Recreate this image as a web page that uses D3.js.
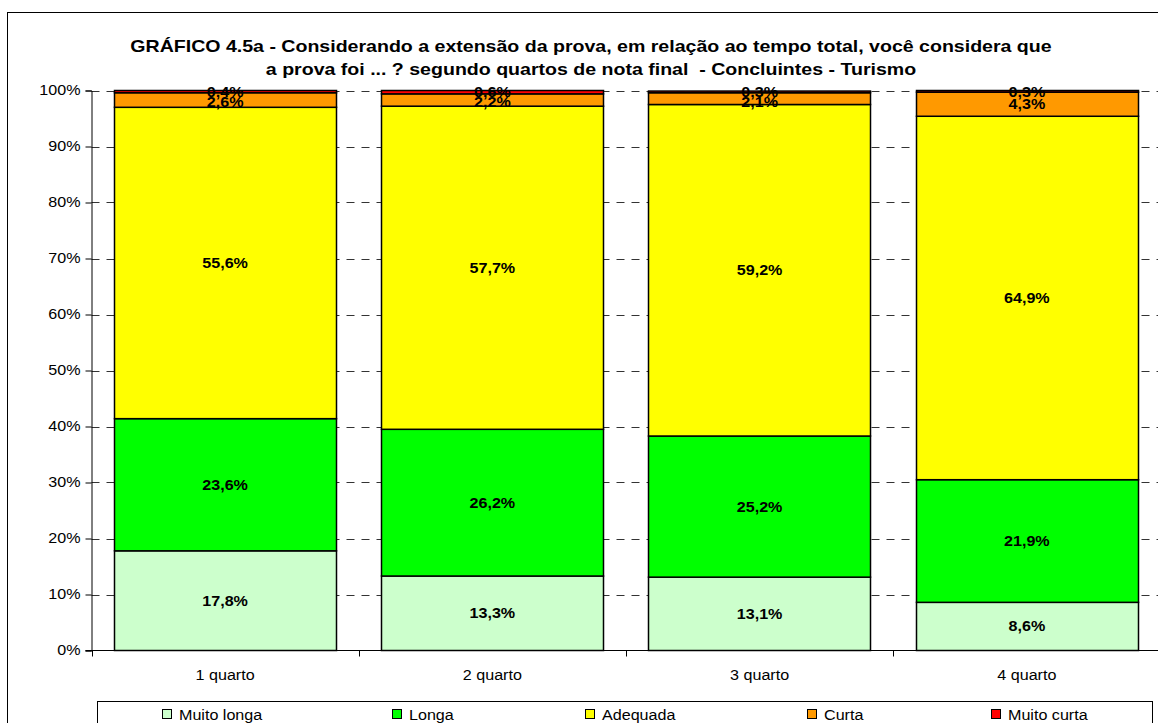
<!DOCTYPE html>
<html>
<head>
<meta charset="utf-8">
<script src="https://cdn.jsdelivr.net/npm/d3@7"></script>
<style>
  body { margin: 0; background: #fff; overflow: hidden; }
  svg { font-family: Arial, "Liberation Sans", sans-serif; display: block; }
</style>
</head>
<body>
<svg id="chart" width="1158" height="723"></svg>
<script>
const categories = ["1 quarto", "2 quarto", "3 quarto", "4 quarto"];
const seriesNames = ["Muito longa", "Longa", "Adequada", "Curta", "Muito curta"];
const muitoLonga = [17.8, 13.3, 13.1, 8.6];
const longa = [23.6, 26.2, 25.2, 21.9];
const adequada = [55.6, 57.7, 59.2, 64.9];
const curta = [2.6, 2.2, 2.1, 4.3];
const muitoCurta = [0.4, 0.6, 0.3, 0.3];
const yTicks = [0, 10, 20, 30, 40, 50, 60, 70, 80, 90, 100];
const colors = ["#CCFFCC", "#00FF00", "#FFFF00", "#FF9900", "#FF0000"];

const seriesValues = [muitoLonga, longa, adequada, curta, muitoCurta];
const data = categories.map((c, i) => {
  const row = { cat: c };
  seriesNames.forEach((s, j) => row[s] = seriesValues[j][i]);
  return row;
});

const svg = d3.select("#chart");
const stretch = 1.15; // o original tem o texto um pouco esticado na horizontal

// moldura externa
svg.append("rect")
  .attr("x", 7.5).attr("y", 12.5)
  .attr("width", 1200).attr("height", 800)
  .attr("fill", "#fff").attr("stroke", "#000").attr("stroke-width", 1);

const plotLeft = 91.5, plotRight = 1160.5, plotTop = 90.5, plotBottom = 650.5;

const x = d3.scaleBand().domain(categories).range([plotLeft, plotRight]).paddingInner(0.168).paddingOuter(0.084);
const y = d3.scaleLinear().domain([0, 100]).range([plotBottom, plotTop]);

// grade tracejada
svg.append("g")
  .selectAll("line")
  .data(yTicks.filter(d => d > 0))
  .enter().append("line")
  .attr("x1", plotLeft).attr("x2", plotRight)
  .attr("y1", d => Math.round(y(d)) + 0.5).attr("y2", d => Math.round(y(d)) + 0.5)
  .attr("stroke", "#333").attr("stroke-dasharray", "8,7");

// barras empilhadas
const stacked = d3.stack().keys(seriesNames)(data);
const layers = svg.append("g").selectAll("g")
  .data(stacked)
  .enter().append("g")
  .attr("fill", (d, i) => colors[i]);

layers.selectAll("rect")
  .data(d => d)
  .enter().append("rect")
  .attr("x", d => Math.round(x(d.data.cat)) + 0.5)
  .attr("y", d => y(d[1]))
  .attr("width", Math.round(x.bandwidth()))
  .attr("height", d => y(d[0]) - y(d[1]))
  .attr("stroke", "#000").attr("stroke-width", 1.5);

// rótulos
const fmt = v => v.toFixed(1).replace(".", ",") + "%";
stacked.forEach((layer, i) => {
  svg.append("g").selectAll("text")
    .data(layer)
    .enter().append("text")
    .attr("x", d => x(d.data.cat) + x.bandwidth() / 2)
    .attr("y", d => {
      let m = (y(d[0]) + y(d[1])) / 2;
      if (i === 4) m = plotTop + 1;
      if (i === 3) m = Math.max(m, plotTop + 11);
      return m;
    })
    .attr("dy", "0.36em")
    .attr("text-anchor", "middle")
    .attr("font-size", "14px").attr("font-weight", "bold")
    .text(d => fmt(d[1] - d[0]));
});

// eixo y
svg.append("g")
  .attr("transform", "translate(" + plotLeft + ",0)")
  .call(d3.axisLeft(y).tickValues(yTicks).tickFormat(d => d + "%").tickSize(6).tickPadding(5))
  .call(g => g.select(".domain").attr("stroke", "#000"))
  .call(g => g.selectAll("text").attr("font-size", "14px").attr("font-family", "Arial, 'Liberation Sans', sans-serif").attr("fill", "#000"));

// eixo x
const xAxis = svg.append("g").attr("transform", "translate(0," + plotBottom + ")");
xAxis.append("line").attr("x1", plotLeft - 6).attr("x2", plotRight).attr("stroke", "#000");
const step = x.step();
xAxis.selectAll(".tk")
  .data(d3.range(categories.length + 1))
  .enter().append("line")
  .attr("x1", i => Math.round(plotLeft + i * step) + 0.5)
  .attr("x2", i => Math.round(plotLeft + i * step) + 0.5)
  .attr("y1", 0).attr("y2", 6).attr("stroke", "#000");
xAxis.selectAll("text")
  .data(categories)
  .enter().append("text")
  .attr("x", d => x(d) + x.bandwidth() / 2)
  .attr("y", 29)
  .attr("text-anchor", "middle")
  .attr("font-size", "14px")
  .text(d => d);

// título
const title = svg.append("g")
  .attr("text-anchor", "middle")
  .attr("font-size", "17px").attr("font-weight", "bold");
title.append("text").attr("x", 591).attr("y", 52)
  .text("GRÁFICO 4.5a - Considerando a extensão da prova, em relação ao tempo total, você considera que");
title.append("text").attr("x", 591).attr("y", 75)
  .text("a prova foi ... ? segundo quartos de nota final  - Concluintes - Turismo")
  .attr("xml:space", "preserve");

// legenda
svg.append("rect")
  .attr("x", 97.5).attr("y", 701.5)
  .attr("width", 1055).attr("height", 40)
  .attr("fill", "#fff").attr("stroke", "#000");
const legendX = [162, 392, 585, 807, 991];
const leg = svg.append("g").selectAll("g")
  .data(seriesNames)
  .enter().append("g")
  .attr("transform", (d, i) => "translate(" + legendX[i] + ",709)");
leg.append("rect")
  .attr("x", 0.5).attr("y", 0.5).attr("width", 9).attr("height", 9)
  .attr("fill", (d, i) => colors[i]).attr("stroke", "#000");
leg.append("text")
  .attr("x", 17).attr("y", 11)
  .attr("font-size", "14px")
  .text(d => d);

// esticar todos os textos na horizontal
svg.selectAll("text").each(function () {
  const len = this.getComputedTextLength();
  if (len > 0) {
    d3.select(this).attr("textLength", len * stretch).attr("lengthAdjust", "spacingAndGlyphs");
  }
});
</script>
</body>
</html>
